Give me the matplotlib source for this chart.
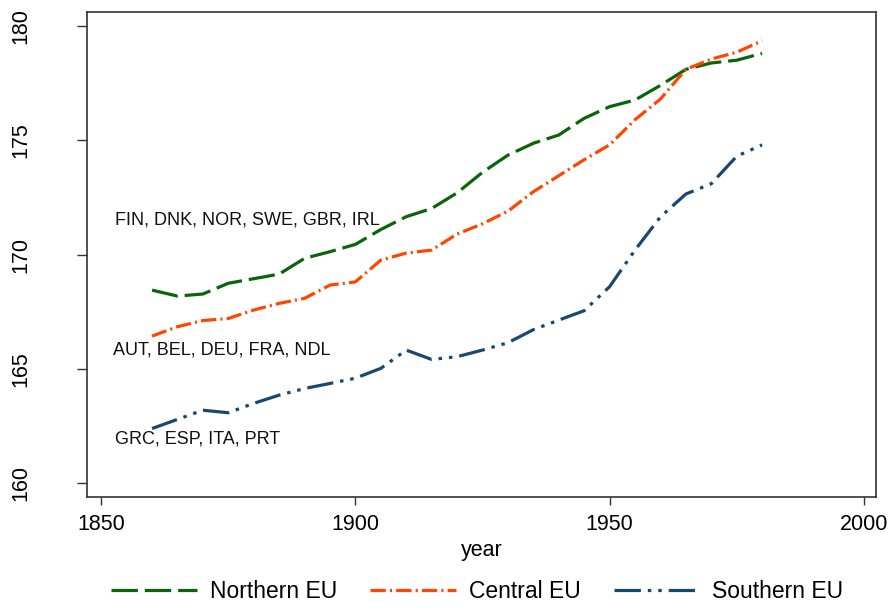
import matplotlib
matplotlib.use('Agg')
import matplotlib.pyplot as plt

plt.rcParams['font.family'] = ['Liberation Sans', 'DejaVu Sans']
plt.rcParams['lines.scale_dashes'] = False

years = [1860, 1865, 1870, 1875, 1880, 1885, 1890, 1895, 1900, 1905, 1910, 1915, 1920,
         1925, 1930, 1935, 1940, 1945, 1950, 1955, 1960, 1965, 1970, 1975, 1980]

# mittlere Körpergröße (cm)
northern = [168.45, 168.19, 168.28, 168.75, 168.95, 169.15, 169.84, 170.13, 170.45, 171.1,
            171.66, 172.02, 172.7, 173.6, 174.35, 174.87, 175.23, 175.96, 176.47, 176.76,
            177.4, 178.1, 178.38, 178.5, 178.8]
central = [166.44, 166.85, 167.12, 167.21, 167.58, 167.87, 168.09, 168.67, 168.81, 169.76,
           170.07, 170.2, 170.9, 171.35, 171.9, 172.75, 173.45, 174.15, 174.8, 175.9,
           176.8, 178.1, 178.55, 178.85, 179.35]
southern = [162.4, 162.8, 163.2, 163.09, 163.5, 163.86, 164.15, 164.37, 164.6, 165.03,
            165.83, 165.42, 165.54, 165.83, 166.15, 166.72, 167.14, 167.55, 168.6, 170.2,
            171.65, 172.65, 173.1, 174.3, 174.8]

series_names = ['Northern EU', 'Central EU', 'Southern EU']
group_labels = ['FIN, DNK, NOR, SWE, GBR, IRL', 'AUT, BEL, DEU, FRA, NDL', 'GRC, ESP, ITA, PRT']
label_pos = [(1852.8, 171.5), (1852.4, 165.83), (1852.8, 161.93)]

x_ticks = [1850, 1900, 1950, 2000]
y_ticks = [160, 165, 170, 175, 180]

green = '#0a640a'
orange = '#ff4500'
navy = '#1a476f'

fig = plt.figure(figsize=(8.92, 6.10), dpi=100)
ax = fig.add_axes([0.0975, 0.185, 0.8845, 0.795])

ax.plot(years, northern, color=green, lw=2.3, dashes=(19, 5), label=series_names[0])
ax.plot(years, central, color=orange, lw=2.3, dashes=(11, 3, 1.5, 3), label=series_names[1])
ax.plot(years, southern, color=navy, lw=2.3, dashes=(19, 5, 2.5, 5, 2.5, 5), label=series_names[2])

for txt, (x, y) in zip(group_labels, label_pos):
    ax.text(x, y, txt, fontsize=13.0, ha='left', va='center', color='#111111')

ax.set_xlim(1847.2, 2002.4)
ax.set_ylim(159.4, 180.6)
ax.set_xticks(x_ticks)
ax.set_yticks(y_ticks)
ax.tick_params(axis='x', length=6, width=1, pad=6, labelsize=15.5, color='#333333')
ax.tick_params(axis='y', length=7, width=1, pad=33, labelsize=15.5, color='#333333')
for lab in ax.get_yticklabels():
    lab.set_rotation(90)
    lab.set_va('center')
for sp in ax.spines.values():
    sp.set_color('#333333')
    sp.set_linewidth(1.2)

ax.set_xlabel('year', fontsize=15.5, labelpad=4)

fig.legend(loc='center', bbox_to_anchor=(0.535, 0.03), ncol=3, frameon=False,
           fontsize=16.5, handlelength=3.75, handletextpad=0.55, columnspacing=1.45)

fig.savefig('out.png', dpi=100)
